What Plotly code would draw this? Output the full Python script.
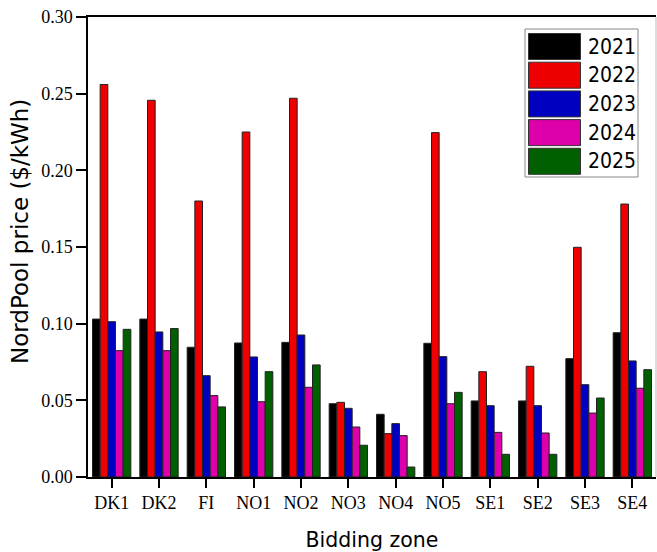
import plotly.graph_objects as go

zones = ["DK1", "DK2", "FI", "NO1", "NO2", "NO3", "NO4", "NO5", "SE1", "SE2", "SE3", "SE4"]
years = ["2021", "2022", "2023", "2024", "2025"]

price_2021 = [0.103, 0.103, 0.0846, 0.0874, 0.0878, 0.0478, 0.0409, 0.0872, 0.0496, 0.0496, 0.0772, 0.0941]
price_2022 = [0.256, 0.2457, 0.180, 0.225, 0.247, 0.0487, 0.0283, 0.2246, 0.0687, 0.0722, 0.1498, 0.178]
price_2023 = [0.1013, 0.0946, 0.0661, 0.0783, 0.0926, 0.0448, 0.0348, 0.0785, 0.0465, 0.0465, 0.0602, 0.0757]
price_2024 = [0.0824, 0.0824, 0.0531, 0.0491, 0.0585, 0.0326, 0.0270, 0.0478, 0.0291, 0.0287, 0.0417, 0.0579]
price_2025 = [0.0963, 0.0968, 0.0457, 0.0687, 0.0731, 0.0207, 0.0065, 0.0552, 0.0148, 0.0148, 0.0515, 0.0700]

series = [price_2021, price_2022, price_2023, price_2024, price_2025]
colors = ["#000000", "#EE0000", "#0000C0", "#DD00AA", "#006000"]

W, H = 657, 552
ML, MR, MT, MB = 88, 1, 17, 75
PW, PH = W - ML - MR, H - MT - MB


def px(x):
    return (x - ML) / PW


def py(y):
    return (H - MB - y) / PH


fig = go.Figure()
for name, vals, col in zip(years, series, colors):
    fig.add_trace(go.Bar(
        x=zones, y=vals, name=name,
        marker=dict(color=col, line=dict(color="#222222", width=1)),
        showlegend=False,
    ))

# thin grey frame line on the right-hand side
shapes = [dict(type="line", xref="paper", yref="paper", x0=1, x1=1, y0=0, y1=1,
               line=dict(color="#BBBBBB", width=1))]

# boxed legend with wide colour swatches
shapes.append(dict(type="rect", xref="paper", yref="paper",
                   x0=px(525), x1=px(638), y0=py(29), y1=py(177),
                   line=dict(color="#888888", width=1), fillcolor="white", layer="above"))
annotations = []
row_top, pitch, sw_h = 33.5, 28.7, 26
for i, (name, col) in enumerate(zip(years, colors)):
    t = row_top + i * pitch
    shapes.append(dict(type="rect", xref="paper", yref="paper",
                       x0=px(528.5), x1=px(580.5), y0=py(t), y1=py(t + sw_h),
                       line=dict(color="#333333", width=1), fillcolor=col, layer="above"))
    annotations.append(dict(xref="paper", yref="paper", x=px(586), y=py(t + sw_h / 2),
                            text=name, showarrow=False, xanchor="left", yanchor="middle",
                            font=dict(family="DejaVu Sans Condensed", size=21, color="black")))

annotations.append(dict(xref="paper", yref="paper", x=px(20), y=py(232),
                        text="NordPool price ($/kWh)", textangle=-90, showarrow=False,
                        xanchor="center", yanchor="middle",
                        font=dict(family="DejaVu Sans", size=23, color="black")))

fig.update_layout(
    width=W, height=H,
    margin=dict(l=ML, r=MR, t=MT, b=MB),
    paper_bgcolor="white", plot_bgcolor="white",
    barmode="group", bargap=0.19, bargroupgap=0,
    shapes=shapes, annotations=annotations,
    font=dict(family="Liberation Serif", size=18, color="black"),
)
fig.update_xaxes(
    range=[-0.5, 11.5],
    showline=True, linecolor="black", linewidth=1.5, mirror=True,
    ticks="outside", ticklen=9, tickwidth=1.5, tickcolor="black",
    showgrid=False,
    title=dict(text="Bidding zone", font=dict(family="DejaVu Sans", size=20.5), standoff=20),
)
fig.update_yaxes(
    range=[0, 0.30], dtick=0.05, tickformat=".2f",
    showline=True, linecolor="black", linewidth=1.5, mirror=False,
    ticks="outside", ticklen=10, tickwidth=1.5, tickcolor="black",
    showgrid=False, zeroline=False,
)

fig.write_html("out.html")
